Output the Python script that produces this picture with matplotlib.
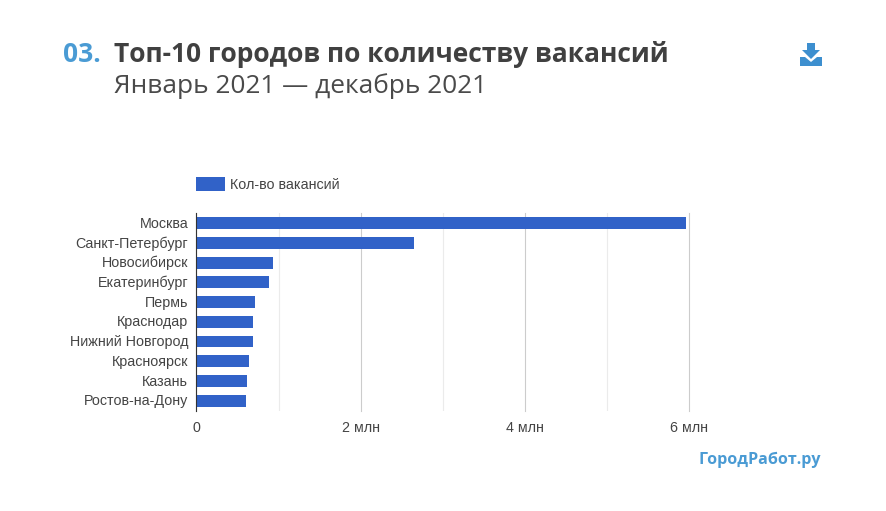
import matplotlib.pyplot as plt
from matplotlib.patches import Polygon, Rectangle
from matplotlib.transforms import ScaledTranslation

cities = ["Москва", "Санкт-Петербург", "Новосибирск", "Екатеринбург", "Пермь",
          "Краснодар", "Нижний Новгород", "Красноярск", "Казань", "Ростов-на-Дону"]
vacancies = [5.96, 2.65, 0.93, 0.88, 0.71, 0.69, 0.69, 0.64, 0.61, 0.60]
major_ticks = [0, 2, 4, 6]
major_labels = ["0", "2 млн", "4 млн", "6 млн"]
minor_ticks = [1, 3, 5]

W, H = 887, 511
BLUE = "#3162c8"
TEXT = "#444444"

fig = plt.figure(figsize=(W / 100, H / 100), dpi=100, facecolor="white")

# overlay in pixel coordinates for the header, legend and logo
bg = fig.add_axes([0, 0, 1, 1])
bg.set_xlim(0, W)
bg.set_ylim(H, 0)
bg.axis("off")

bg.text(63, 54.5, "03.", family="Open Sans", weight="bold", fontsize=19, color="#4a9bd4", va="center")
bg.text(114, 54.5, "Топ-10 городов по количеству вакансий", family="Open Sans", weight="bold",
        fontsize=19, color="#404040", va="center")
bg.text(114, 86.5, "Январь 2021 — декабрь 2021", family="Open Sans", fontsize=18.95,
        color="#4a4a4a", va="center")

# download icon
bg.add_patch(Polygon([(807, 43), (815, 43), (815, 50), (820, 50), (811, 59), (802, 50), (807, 50)],
                     color="#3d8fcf", lw=0))
bg.add_patch(Polygon([(800, 57), (805, 57), (811, 62), (817, 57), (822, 57), (822, 66), (800, 66)],
                     color="#3d8fcf", lw=0))

# legend
bg.add_patch(Rectangle((196, 177), 29, 14, color=BLUE, lw=0))
bg.text(230.5, 185, "Кол-во вакансий", family="Liberation Sans", fontsize=10.25, color=TEXT, va="center")

bg.text(821, 459.5, "ГородРабот.ру", family="Open Sans", weight="bold", fontsize=11.6,
        color="#4a9bd4", ha="right", va="center")

# chart area
left, right, top, bottom = 196.5, 689, 213.2, 410.7
ax = fig.add_axes([left / W, 1 - bottom / H, (right - left) / W, (bottom - top) / H])
ax.patch.set_alpha(0)
y = list(range(len(cities)))
ax.barh(y, vacancies, height=0.6, color=BLUE, zorder=3)
ax.set_ylim(len(cities) - 0.5, -0.5)
ax.set_xlim(0, 6)

ax.set_yticks(y)
ax.set_yticklabels(cities, family="Liberation Sans", fontsize=10.25, color=TEXT, va="center_baseline")
ax.set_xticks(major_ticks)
ax.set_xticklabels(major_labels, family="Liberation Sans", fontsize=10.25, color=TEXT)
ax.set_xticks(minor_ticks, minor=True)
ax.tick_params(axis="both", which="both", length=0)
ax.tick_params(axis="y", pad=6)
ax.tick_params(axis="x", pad=7.3)

# city labels sit a pixel higher than the bar centres
for lab in ax.get_yticklabels():
    lab.set_transform(lab.get_transform() + ScaledTranslation(0, 0.01, fig.dpi_scale_trans))

ax.grid(True, axis="x", which="major", color="#cccccc", lw=0.8, zorder=1)
ax.grid(True, axis="x", which="minor", color="#ebebeb", lw=0.8, zorder=1)
for name in ["top", "right", "bottom"]:
    ax.spines[name].set_visible(False)
ax.spines["left"].set_color("#333333")
ax.spines["left"].set_linewidth(0.8)
ax.spines["left"].set_zorder(4)
for gl in ax.xaxis.get_gridlines():
    gl.set_clip_on(False)

fig.savefig("out.png", dpi=100)
